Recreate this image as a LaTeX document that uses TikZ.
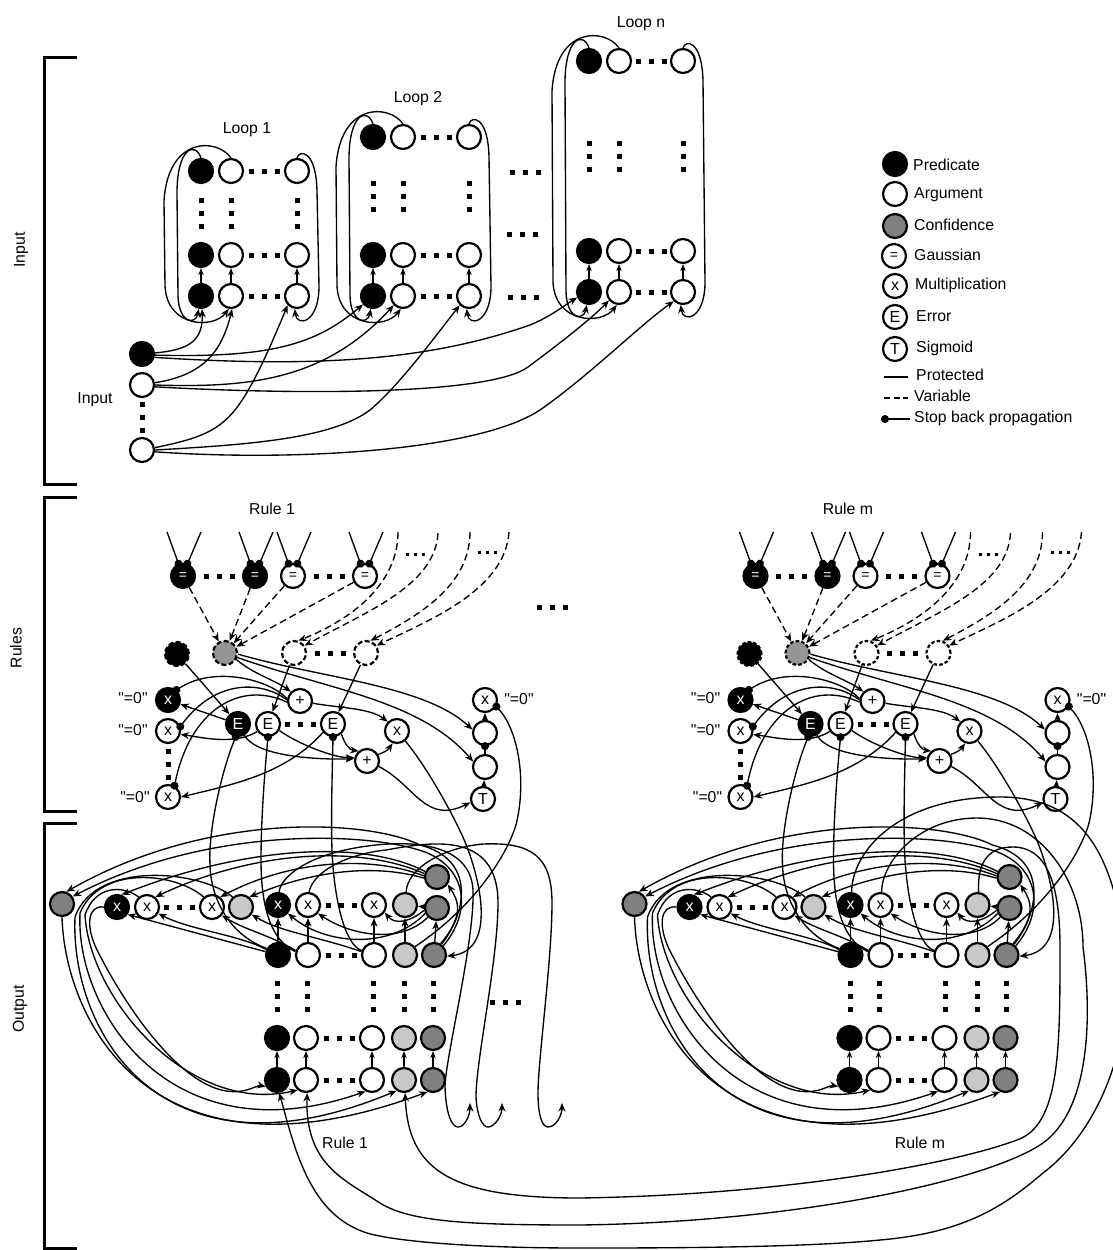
\documentclass[tikz,border=0pt]{standalone}
\usepackage{fontspec}
\newfontfamily\labfam{Liberation Sans}
\setmainfont{Liberation Sans}
\usepackage{tikz}
\usetikzlibrary{arrows.meta,calc}
\definecolor{confgrey}{HTML}{808080}
\definecolor{lightgrey}{HTML}{C8C8C8}
\definecolor{midgrey}{HTML}{969696}
\newcommand{\labfont}{\labfam\fontsize{15.8}{18}\selectfont}
\newcommand{\opfont}{\labfam\fontsize{16}{18}\selectfont}
\newcommand{\eqfont}{\labfam\fontsize{14}{16}\selectfont}

% three square dots, between two nodes or at a point
\newcommand{\hdotz}[2]{\draw[dotz] ($(#1)!.5!(#2)+(-15.5,0)$) -- ++(31,0);}
\newcommand{\vdotz}[2]{\draw[dotz] ($(#1)!.5!(#2)+(0,-15.5)$) -- ++(0,31);}
\newcommand{\hdotat}[2]{\draw[dotz] (#1,#2) -- ++(31,0);}

\newcommand{\loopnet}[7]{
  \node[pred] (#1t1) at (#2,#5) {};
  \node[arg] (#1t2) at (#3,#5) {};
  \node[arg] (#1t3) at (#4,#5) {};
  \node[pred] (#1m1) at (#2,#6) {};
  \node[arg] (#1m2) at (#3,#6) {};
  \node[arg] (#1m3) at (#4,#6) {};
  \node[pred] (#1b1) at (#2,#7) {};
  \node[arg] (#1b2) at (#3,#7) {};
  \node[arg] (#1b3) at (#4,#7) {};
  \hdotz{#1t2}{#1t3} \hdotz{#1m2}{#1m3} \hdotz{#1b2}{#1b3}
  \vdotz{#1t1}{#1m1} \vdotz{#1t2}{#1m2} \vdotz{#1t3}{#1m3}
  \foreach \c in {1,2,3} \draw[thinw] (#1b\c) -- (#1m\c);
  % recurrent wires round the loop
  \draw[arw] (#1t1.north) .. controls +(-6,-17) and +(0,-45) .. ($(#1t1)+(-24,22)$) -- ($(#1b1)+(-23,0)$) .. controls +(1,28) and +(-3,16) .. (#1b1.-100);
  \draw[arw] (#1t2.north) .. controls +(-14,-20) and +(4,-65) .. ($(#1t1)+(-37,30)$) -- ($(#1b1)+(-36,-10)$) .. controls +(2,42) and +(-15,20) .. (#1b2.-100);
  \draw[arw] (#1t3.north) .. controls +(2,-8) and +(-1,-42) .. ($(#1t3)+(20,20)$) -- ($(#1b3)+(22,-10)$) .. controls +(0,38) and +(2,18) .. (#1b3.-100);
}

\newcommand{\rulenet}[1]{
  % gaussians and their inputs
  \node[pred,font=\eqfont] (#1gb1) at (183,576) {\textcolor{white}{=}};
  \node[pred,font=\eqfont] (#1gb2) at (255,576) {\textcolor{white}{=}};
  \node[arg,font=\eqfont] (#1gw1) at (293,576) {=};
  \node[arg,font=\eqfont] (#1gw2) at (365,576) {=};
  \hdotz{#1gb1}{#1gb2} \hdotz{#1gw1}{#1gw2}
  \foreach \g in {gb1,gb2,gw1,gw2} {
    \coordinate (#1\g l) at ($(#1\g)+(-16,-44)$);
    \coordinate (#1\g r) at ($(#1\g)+(18,-44)$);
    \draw[dotw] (#1\g.110) -- (#1\g l);
    \draw[dotw] (#1\g.70) -- (#1\g r);
  }
  % variable cells
  \node[pred,varline] (#1db) at (177,654) {};
  \node[arg,varline,fill=midgrey] (#1cd) at (225,653) {};
  \node[arg,varline] (#1da1) at (294,653) {};
  \node[arg,varline] (#1da2) at (366,653) {};
  \hdotz{#1da1}{#1da2}
  \foreach \g in {gb1,gb2,gw1,gw2} \draw[dashw] (#1\g) -- (#1cd);
  \coordinate (#1qa) at (398,532);
  \coordinate (#1qb) at (438,533);
  \coordinate (#1qc) at (470,532);
  \coordinate (#1qd) at (509,532);
  \draw[dashw] (#1qa) .. controls (398,585) and (350,620) .. (#1da1.70);
  \draw[dashw] (#1qb) .. controls (435,585) and (370,610) .. (#1da1.35);
  \draw[dashw] (#1qc) .. controls (470,585) and (420,615) .. (#1da2.70);
  \draw[dashw] (#1qd) .. controls (505,590) and (430,620) .. (#1da2.35);
  \draw[smalldotz] (406,554) -- ++(19,0);
  \draw[smalldotz] (478,552) -- ++(19,0);
  % operators
  \node[pred] (#1xb) at (168,700) {\textcolor{white}{x}};
  \node[arg] (#1xa) at (168,731) {x};
  \node[arg] (#1xc) at (168,797) {x};
  \vdotz{#1xa}{#1xc}
  \node[lab] (#1zb) at (133,698) {"=0"};
  \node[lab] (#1za) at (133,730) {"=0"};
  \node[lab] (#1zc) at (135,797) {"=0"};
  \node[pred] (#1Eb) at (238,724) {\textcolor{white}{E}};
  \node[arg] (#1Ea) at (268,724) {E};
  \node[arg] (#1Ec) at (333,724) {E};
  \hdotz{#1Ea}{#1Ec}
  \node[arg] (#1pa) at (300,701) {+};
  \node[arg] (#1pb) at (367,761) {+};
  \node[arg] (#1xd) at (397,731) {x};
  \node[arg] (#1xr) at (485,700) {x};
  \node[lab] (#1zr) at (519,699) {"=0"};
  \node[arg] (#1ca) at (485,733) {};
  \node[arg] (#1cb) at (485,767) {};
  \node[arg] (#1tg) at (483,799) {T};
  \draw[arw] (#1db) -- (#1Eb);
  \draw[arw] (#1da1) -- (#1Ea);
  \draw[arw] (#1da2) -- (#1Ec);
  \draw[arw] (#1Eb) -- (#1xb);
  \draw[arw] (#1tg) -- (#1cb);
  \draw[arw] (#1ca) -- (#1xr);
  \draw[dotw] (#1ca.south) -- (#1cb.north);
  \draw[arw] (#1cd.-30) .. controls (255,675) and (275,680) .. (#1pa.135);
  \draw[arw] (#1cd.-5) .. controls (320,678) and (425,685) .. (#1ca.165);
  \draw[arw] (#1cd.-20) .. controls (330,690) and (420,700) .. (#1cb.155);
  \draw[dotw] (#1xb.50) .. controls (215,665) and (270,680) .. (#1pa.170);
  \draw[dotw] (#1xa.20) .. controls (215,680) and (260,680) .. (#1pa.175);
  \draw[dotw] (#1xc.60) .. controls (190,710) and (240,680) .. (#1pa.185);
  \draw[arw] (#1Ea.215) .. controls (235,745) and (205,738) .. (#1xa.-15);
  \draw[arw] (#1Ec.220) .. controls (285,775) and (230,785) .. (#1xc.0);
  \draw[arw] (#1Eb.-60) .. controls (255,755) and (310,760) .. (#1pb.170);
  \draw[arw] (#1Ea.-30) .. controls (300,745) and (335,758) .. (#1pb.165);
  \draw[arw] (#1Ec.-50) .. controls (345,745) and (350,750) .. (#1pb.130);
  \draw[arw] (#1pa.-10) .. controls (340,708) and (370,708) .. (#1xd.135);
  \draw[arw] (#1pb.30) .. controls (385,752) and (388,750) .. (#1xd.-110);
  \draw[arw] (#1pb.-25) .. controls (415,785) and (425,825) .. (#1tg.195);
  % output cells
  \node[arg,fill=confgrey] (#1cn) at (62,904) {};
  \node[pred] (#1ox1) at (117,907) {\textcolor{white}{x}};
  \node[arg] (#1ox2) at (147,907) {x};
  \node[arg] (#1ox3) at (212,907) {x};
  \node[arg,fill=lightgrey] (#1ol) at (241,907) {};
  \hdotz{#1ox2}{#1ox3}
  \node[pred] (#1px1) at (278,905) {\textcolor{white}{x}};
  \node[arg] (#1px2) at (308,905) {x};
  \node[arg] (#1px3) at (374,905) {x};
  \node[arg,fill=lightgrey] (#1pl) at (405,905) {};
  \node[arg,fill=confgrey] (#1pc) at (437,908) {};
  \node[arg,fill=confgrey] (#1tc) at (437,877) {};
  \hdotz{#1px2}{#1px3}
  \node[pred] (#1b1) at (278,955) {};
  \node[arg] (#1b2) at (308,955) {};
  \node[arg] (#1b3) at (374,955) {};
  \node[arg,fill=lightgrey] (#1b4) at (405,955) {};
  \node[arg,fill=confgrey] (#1b5) at (434,955) {};
  \node[pred] (#1c1) at (277,1038) {};
  \node[arg] (#1c2) at (306,1038) {};
  \node[arg] (#1c3) at (372,1038) {};
  \node[arg,fill=lightgrey] (#1c4) at (404,1038) {};
  \node[arg,fill=confgrey] (#1c5) at (433,1038) {};
  \node[pred] (#1d1) at (277,1080) {};
  \node[arg] (#1d2) at (306,1080) {};
  \node[arg] (#1d3) at (372,1080) {};
  \node[arg,fill=lightgrey] (#1d4) at (404,1080) {};
  \node[arg,fill=confgrey] (#1d5) at (433,1080) {};
  \hdotz{#1b2}{#1b3} \hdotz{#1c2}{#1c3} \hdotz{#1d2}{#1d3}
  \foreach \c in {1,...,5} {
    \vdotz{#1b\c}{#1c\c}
    \draw[thinw] (#1d\c) -- (#1c\c);
  }
  \draw[arw] (#1b1) -- (#1px1);
  \draw[arw] (#1b2) -- (#1px2);
  \draw[arw] (#1b3) -- (#1px3);
  \draw[arw] (#1b4) -- (#1pl);
  \draw[arw] (#1b5) -- (#1pc);
  \draw[arw] (#1pc) -- (#1pl);
  % from the operators down to the cells
  \draw[dotw] (#1Eb.-100) .. controls (222,770) and (208,830) .. (210,865) .. controls (211,900) and (230,935) .. (#1b1.150);
  \draw[dotw] (#1Ea.-90) .. controls (263,790) and (261,830) .. (261,860) .. controls (261,905) and (270,940) .. (#1b2.165);
  \draw[dotw] (#1Ec.-90) .. controls (332,780) and (331,820) .. (332,850) .. controls (334,900) and (345,945) .. (#1b3.160);
  \draw[dotw] (#1xr.-30) .. controls (518,730) and (527,780) .. (516,825) .. controls (505,860) and (470,910) .. (#1b4.40);
  \draw[arw] (#1xd.-50) .. controls (425,765) and (448,805) .. (462,835) .. controls (478,870) and (500,950) .. (#1b5.-5);
  % wires over the top, to the left
  \draw[arw] (#1b5.55) .. controls (465,915) and (478,860) .. (420,845) .. controls (370,820) and (210,810) .. (#1cn.70);
  \draw[arw] (#1b5.45) .. controls (470,915) and (470,870) .. (425,852) .. controls (370,832) and (210,825) .. (#1cn.35);
  \draw[arw] (#1tc.155) .. controls (360,838) and (240,848) .. (#1ox1.70);
  \draw[arw] (#1tc.165) .. controls (360,845) and (255,850) .. (#1ox2.50);
  \draw[arw] (#1tc.175) .. controls (370,855) and (290,860) .. (#1ox3.50);
  \draw[arw] (#1tc.185) .. controls (380,865) and (320,868) .. (#1ol.50);
  \draw[arw] (#1pc.205) .. controls (390,950) and (325,945) .. (#1px1.-40);
  \draw[arw] (#1pc.225) .. controls (400,945) and (350,935) .. (#1px2.-40);
  \draw[arw] (#1pc.190) .. controls (410,922) and (395,925) .. (#1px3.-35);
  \draw[arw] (#1b1.165) -- (#1ox1.-35);
  \draw[arw] (#1b1.155) .. controls (240,935) and (190,930) .. (#1ox2.-30);
  \draw[arw] (#1b2.160) .. controls (270,935) and (245,930) .. (#1ox3.-40);
  \draw[arw] (#1b3.165) .. controls (320,937) and (280,932) .. (#1ol.-35);
  \draw[arw] (#1b5.60) .. controls (465,915) and (458,900) .. (#1tc.-35);
  % wires round the left, to the bottom row
  \draw[arw] (#1ox1.180) .. controls (88,905) and (85,925) .. (97,950) .. controls (130,1015) and (190,1100) .. (242,1091) .. controls (250,1090) and (258,1085) .. (#1d1.-150);
  \draw[arw] (#1ox2.130) .. controls (123,885) and (95,885) .. (85,915) .. controls (90,1000) and (190,1115) .. (#1d2.-130);
  \draw[arw] (#1ox3.130) .. controls (175,872) and (100,865) .. (80,913) .. controls (75,1010) and (170,1160) .. (#1d3.-120);
  \draw[arw] (#1ol.130) .. controls (200,870) and (95,860) .. (75,917) .. controls (70,1030) and (160,1190) .. (#1d4.-125);
  \draw[arw] (#1cn.-90) .. controls (65,1020) and (150,1195) .. (#1d5.-115);
}

\begin{document}
\begin{tikzpicture}[x=1pt,y=-1pt,
  pred/.style={circle, draw, fill=black, line width=2.2pt, minimum size=24pt, inner sep=0pt, font=\opfont},
  arg/.style={circle, draw, fill=white, line width=2.2pt, minimum size=24pt, inner sep=0pt, font=\opfont},
  varline/.style={dash pattern=on 5pt off 2.5pt},
  arw/.style={-{Stealth[length=8.5pt,width=7pt]}, line width=1.35pt},
  thinw/.style={-{Stealth[length=7pt,width=5.5pt]}, line width=1.1pt},
  dashw/.style={arw, dash pattern=on 7pt off 4pt},
  dotw/.style={{Circle[length=8pt]}-, line width=1.35pt, shorten <=-4pt},
  dotz/.style={line width=5pt, dash pattern=on 5pt off 8pt},
  smalldotz/.style={line width=3pt, dash pattern=on 3pt off 5pt},
  brack/.style={line width=3pt},
  lab/.style={font=\labfont, inner sep=0pt},
  leglab/.style={font=\labfont, inner sep=0pt, anchor=west}]
  \useasboundingbox (0,0) rectangle (1113,1250);

  % brackets down the left
  \draw[brack] (77,57) -- (44.5,57) -- (44.5,484) -- (77,484);
  \draw[brack] (77,497) -- (44.5,497) -- (44.5,811) -- (77,811);
  \draw[brack] (77,823) -- (44.5,823) -- (44.5,1248) -- (77,1248);
  \node[lab,rotate=90] (ttinput) at (21,250) {Input};
  \node[lab,rotate=90] (ttrules) at (16,648) {Rules};
  \node[lab,rotate=90] (ttoutput) at (20,1009) {Output};

  % input section
  \node[lab] (ttloopa) at (247,130) {Loop 1};
  \node[lab] (ttloopb) at (418,99) {Loop 2};
  \node[lab] (ttloopn) at (641,24) {Loop n};
  \loopnet{la}{201}{231}{297}{171}{255}{296}
  \loopnet{lb}{373}{403}{469}{137}{255}{296}
  \loopnet{ln}{589}{619}{683}{61}{251}{292}
  \hdotat{510}{172}
  \hdotat{507}{234}
  \hdotat{508}{297}
  \node[pred] (ina) at (142,354) {};
  \node[arg] (inb) at (142,385) {};
  \node[arg] (ink) at (142,450) {};
  \vdotz{inb}{ink}
  \node[lab] (ttin) at (95,400) {Input};
  \draw[arw] (ina.5) .. controls (190,350) and (203,340) .. (lab1.-85);
  \draw[arw] (ina.-5) .. controls (270,358) and (315,345) .. (lbb1.-140);
  \draw[arw] (ina.-15) .. controls (320,368) and (430,360) .. (530,325) .. controls (550,317) and (565,305) .. (lnb1.-155);
  \draw[arw] (inb.10) .. controls (205,375) and (222,350) .. (lab2.-85);
  \draw[arw] (inb.0) .. controls (250,388) and (325,380) .. (lbb2.-135);
  \draw[arw] (inb.-8) .. controls (300,395) and (490,395) .. (528,367) .. controls (555,347) and (590,320) .. (lnb2.-140);
  \draw[arw] (ink.10) .. controls (190,440) and (215,435) .. (235,410) .. controls (255,385) and (275,335) .. (lab3.-135);
  \draw[arw] (ink.0) .. controls (240,445) and (330,440) .. (370,410) .. controls (400,385) and (440,330) .. (lbb3.-135);
  \draw[arw] (ink.-8) .. controls (300,462) and (480,450) .. (540,410) .. controls (590,375) and (640,325) .. (lnb3.-135);

  % legend
  \node[pred] (lgp) at (895,164) {};
  \node[arg] (lga) at (895,194) {};
  \node[arg,fill=confgrey] (lgc) at (895,226) {};
  \node[arg,font=\eqfont] (lgg) at (894,256) {=};
  \node[arg] (lgm) at (895,286) {x};
  \node[arg] (lge) at (895,317) {E};
  \node[arg] (lgs) at (895,349) {T};
  \node[leglab] (tpred) at (913,165) {Predicate};
  \node[leglab] (targ) at (914,195) {Argument};
  \node[leglab] (tconf) at (914,225) {Confidence};
  \node[leglab] (tgau) at (914,255) {Gaussian};
  \node[leglab] (tmul) at (915,285) {Multiplication};
  \node[leglab] (terr) at (916,316) {Error};
  \node[leglab] (tsig) at (916,348) {Sigmoid};
  \node[leglab] (tprot) at (916,375) {Protected};
  \node[leglab] (tvar) at (914,396) {Variable};
  \node[leglab] (tstop) at (914,418) {Stop back propagation};
  \coordinate (lgpa) at (884,377); \coordinate (lgpb) at (908,377);
  \coordinate (lgva) at (884,398); \coordinate (lgvb) at (908,398);
  \coordinate (lgsa) at (885,419); \coordinate (lgsb) at (910,419);
  \draw[line width=1.35pt] (lgpa) -- (lgpb);
  \draw[line width=1.35pt, dash pattern=on 6pt off 3.5pt] (lgva) -- (lgvb);
  \draw[dotw] (lgsa) -- (lgsb);

  % the two rules
  \node[lab] (ttra) at (272,509) {Rule 1};
  \node[lab] (ttrm) at (848,509) {Rule m};
  \node[lab] (ttoa) at (345,1143) {Rule 1};
  \node[lab] (ttom) at (920,1143) {Rule m};
  \rulenet{ra}
  \begin{scope}[shift={(572.5,0)}, varline/.style={dash pattern=on 3.5pt off 2.2pt}]
    \rulenet{rb}
  \end{scope}
  \hdotat{537}{607}
  \hdotat{490}{1002}

  % rule 1 hands on to the next rule
  \coordinate (ua) at (470,1103);
  \coordinate (ub) at (502,1103);
  \coordinate (uc) at (562,1103);
  \draw[arw] (rapx1.85) .. controls (280,880) and (300,860) .. (345,850) .. controls (390,840) and (470,835) .. (473,890) .. controls (475,940) and (445,1060) .. (445,1087) .. controls (446,1115) and (452,1127) .. (458,1127) .. controls (465,1127) and (470,1115) .. (ua);
  \draw[arw] (rapx2.85) .. controls (312,875) and (340,855) .. (386,850) .. controls (430,842) and (498,830) .. (498,903) .. controls (498,960) and (476,1060) .. (476,1097) .. controls (477,1115) and (482,1127) .. (488,1127) .. controls (495,1127) and (502,1115) .. (ub);
  \draw[arw] (rapl.85) .. controls (407,870) and (440,848) .. (483,844) .. controls (530,842) and (552,855) .. (552,903) .. controls (552,960) and (538,1060) .. (538,1093) .. controls (538,1115) and (542,1127) .. (548,1127) .. controls (556,1127) and (562,1115) .. (uc);

  % rule m comes back round to rule 1
  \draw[arw] (rbpl.85) .. controls (977,860) and (990,847) .. (1013,847) .. controls (1045,847) and (1060,880) .. (1060,947) .. controls (1060,1050) and (1060,1125) .. (1017,1140) .. controls (950,1165) and (780,1195) .. (580,1198) .. controls (450,1198) and (408,1170) .. (rad4.-85);
  \draw[arw] (rbpx2.85) .. controls (882,860) and (920,818) .. (977,818) .. controls (1040,818) and (1083,880) .. (1083,947) .. controls (1090,1000) and (1095,1105) .. (1043,1143) .. controls (990,1180) and (800,1222) .. (580,1225) .. controls (470,1225) and (410,1222) .. (380,1203) .. controls (345,1180) and (305,1165) .. (rad2.-85);
  \draw[arw] (rbpx1.85) .. controls (852,850) and (900,797) .. (1000,797) .. controls (1080,797) and (1113,850) .. (1125,950) .. controls (1135,1040) and (1100,1130) .. (1043,1173) .. controls (1000,1210) and (960,1233) .. (880,1240) .. controls (800,1248) and (650,1248) .. (580,1248) .. controls (460,1248) and (390,1240) .. (367,1233) .. controls (310,1215) and (295,1150) .. (rad1.-80);
\end{tikzpicture}
\end{document}
